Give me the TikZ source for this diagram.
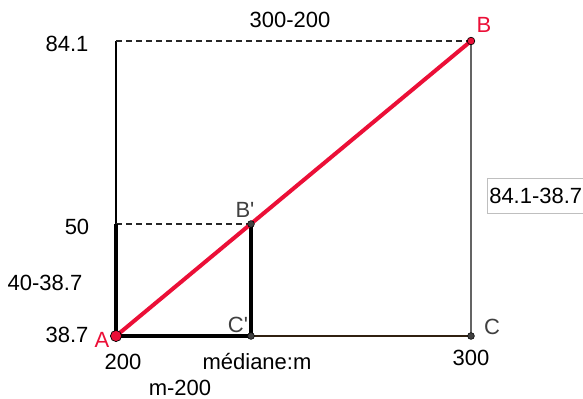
\documentclass[tikz,border=0pt]{standalone}
\usepackage{fontspec}
\setmainfont{Liberation Sans}
\definecolor{ptred}{RGB}{235,15,55}
\definecolor{ptgray}{RGB}{64,64,64}
\definecolor{linegray}{RGB}{100,100,100}
\tikzset{
  lbl/.style={inner sep=0pt,font=\fontsize{16.5}{19}\selectfont},
  ptlbl/.style={lbl,text=ptgray},
  thinline/.style={line width=0.8pt,draw=black},
  thickline/.style={line width=2.6pt,draw=black},
  dashline/.style={line width=0.8pt,draw=black!85,dash pattern=on 4.5pt off 3pt},
  gdot/.style={fill=ptgray,draw=black,line width=0.4pt}
}
\newcommand{\prm}{\textquotesingle}
\begin{document}
\begin{tikzpicture}[x=0.75pt,y=-0.75pt]
		\clip (0,0) rectangle (583,399);
		% points
		\coordinate (A) at (116,336);
		\coordinate (B) at (471,41);
		\coordinate (C) at (471,336);
		\coordinate (Bp) at (251,224);
		\coordinate (Cp) at (251,336);
		\coordinate (Btop) at (116,41);
		\coordinate (Bmid) at (116,224);
		% frame
		\draw[thinline] (Btop) -- (Bmid);
		\draw[dashline] (Btop) -- (B);
		\draw[dashline] (Bmid) -- (Bp);
		\draw[line width=1pt,draw=linegray] (B) -- (C);
		\draw[line width=0.8pt,draw=black!75!brown] (Cp) -- (C);
		\draw[thickline] (Bmid) -- (A) -- (Cp) -- (Bp);
		\draw[line width=3pt,draw=ptred] (A) -- (B);
		% dots
		\filldraw[fill=ptred,draw=black,line width=0.5pt] (A) circle (5.6);
		\filldraw[fill=ptred,draw=black,line width=0.5pt] (B) circle (3.8);
		\filldraw[gdot] (Bp) circle (3.4);
		\filldraw[gdot] (Cp) circle (3.4);
		\filldraw[gdot] (C) circle (3.4);
		% labels
		\node[lbl,text=ptred] (lA) at (102,340) {A};
		\node[lbl,text=ptred] (lB) at (484,25) {B};
		\node[ptlbl] (lC) at (492,327) {C};
		\node[ptlbl] (lCp) at (238,325) {C\prm};
		\node[ptlbl] (lBp) at (245,210) {B\prm};
		\node[lbl] (y841) at (67,44) {84.1};
		\node[lbl] (y50) at (77,227) {50};
		\node[lbl] (dy) at (45,283) {40-38.7};
		\node[lbl] (y387) at (67,335) {38.7};
		\node[lbl] (x200) at (123,362) {200};
		\node[lbl] (dx) at (180,388) {m-200};
		\node[lbl] (xm) at (257,362) {médiane:m};
		\node[lbl] (x300) at (471,358) {300};
		\node[lbl] (top) at (290,20) {300-200};
		\draw[line width=0.6pt,draw=black!25] (487,178) rectangle (620,213);
		\node[lbl,anchor=west] (right) at (489,196) {84.1-38.7};
	\end{tikzpicture}
\end{document}
